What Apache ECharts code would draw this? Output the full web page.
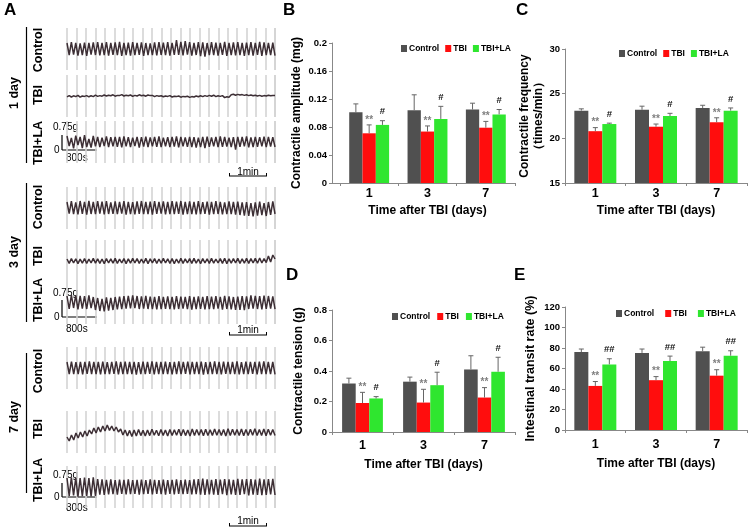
<!DOCTYPE html>
<html><head><meta charset="utf-8">
<script src="https://cdn.jsdelivr.net/npm/echarts@6/dist/echarts.min.js"></script>
<style>html,body{margin:0;padding:0;background:#fff}#c{width:750px;height:528px}</style>
</head><body><div id="c"></div>
<script>
// ---------- DATA ----------
const days = ['1', '3', '7'];
const groupNames = ['Control', 'TBI', 'TBI+LA'];

// B: Contractile amplitude (mg)
const ampControl = [0.101, 0.104, 0.105];
const ampControlErr = [0.012, 0.022, 0.009];
const ampTBI = [0.071, 0.0735, 0.079];
const ampTBIErr = [0.012, 0.008, 0.009];
const ampLA = [0.083, 0.0915, 0.098];
const ampLAErr = [0.006, 0.018, 0.007];
const ampTicks = [0, 0.04, 0.08, 0.12, 0.16, 0.2];

// C: Contractile frequency (times/min)
const freqControl = [23.1, 23.2, 23.4];
const freqControlErr = [0.2, 0.4, 0.3];
const freqTBI = [20.8, 21.3, 21.8];
const freqTBIErr = [0.4, 0.3, 0.5];
const freqLA = [21.6, 22.5, 23.1];
const freqLAErr = [0.1, 0.3, 0.3];
const freqTicks = [15, 20, 25, 30];

// D: Contractile tension (g)
const tenControl = [0.318, 0.33, 0.41];
const tenControlErr = [0.035, 0.03, 0.09];
const tenTBI = [0.19, 0.193, 0.226];
const tenTBIErr = [0.07, 0.087, 0.065];
const tenLA = [0.22, 0.307, 0.395];
const tenLAErr = [0.012, 0.085, 0.095];
const tenTicks = [0, 0.2, 0.4, 0.6, 0.8];

// E: Intestinal transit rate (%)
const itrControl = [76, 75.2, 76.8];
const itrControlErr = [3, 3.8, 4];
const itrTBI = [43, 48.6, 53];
const itrTBIErr = [4.3, 3.5, 5.8];
const itrLA = [64, 67.3, 72.5];
const itrLAErr = [5.5, 4.8, 4.8];
const itrTicks = [0, 20, 40, 60, 80, 100, 120];

// significance marks
const marksTBI = ['**', '**', '**'];
const marksLA = ['#', '#', '#'];
const marksLAE = ['##', '##', '##'];

// A: traces (peaks / troughs, in 0.01 g, read from the recordings)
const trace1dControl = [30,-30,34,-28,30,-33,28,-30,32,-34,30,-28,33,-30,35,-32,30,-30,34,-33,31,-29,33,-31,36,-34,30,-30,32,-33,34,-30,31,-29,33,-35,30,-31,28,-30,33,-32,35,-30,32,-31,34,-33,30,-29,45,-30,36,-32,40,-28,34,-33,31,-30,35,-36,33,-38,30,-31,34,-30,32,-33,30,-29,36,-34,31,-30,33,-32,35,-31,30,-34,32,-30,34,-33,31,-29,36,-35,33,-30,30,-31,32,-33];
const trace1dTBI = [-4,2,-5,1,-3,3,-6,0,-2,2,-4,1,-3,4,-2,2,-1,5,0,4,1,6,-1,3,2,7,0,4,1,5,-2,3,0,6,1,4,-1,5,2,3,-3,2,-1,1,-4,0,-2,2,-5,-1,-3,0,-6,-2,-4,-1,-7,-3,-5,0,-4,1,-3,2,-2,3,-1,4,-3,1,-2,2,-8,-4,-6,6,9,4,8,5,7,3,6,2,5,1,4,0,3,-1,2,0,4,1,3,2];
const trace1dLA = [30,-20,20,-32,32,-15,25,-30,34,-25,15,-28,30,-22,25,-26,22,-20,28,-25,24,-22,26,-24,25,-27,28,-22,24,-25,22,-20,26,-28,24,-23,27,-25,23,-22,25,-24,28,-26,22,-21,24,-25,26,-23,28,-27,25,-22,23,-24,26,-25,24,-28,22,-26,25,-30,27,-24,23,-22,26,-25,28,-24,25,-23,22,-26,24,-38,26,-24,25,-22,28,-27,23,-25,26,-24,24,-22,27,-26,25,-23,24,-25];
const trace3dControl = [30,-28,34,-30,28,-32,35,-29,31,-33,36,-30,30,-31,34,-28,32,-32,35,-30,28,-29,33,-31,30,-28,34,-33,31,-30,29,-32,33,-29,35,-31,30,-30,32,-33,34,-29,31,-28,33,-32,30,-31,34,-30,32,-29,35,-33,30,-30,33,-31,31,-32,34,-30,29,-29,32,-33,30,-31,35,-30,31,-32,28,-30,33,-31,30,-33,32,-35,28,-38,30,-40,25,-42,28,-38,32,-36,24,-40,30,-34,33,-30];
const trace3dTBI = [10,-12,12,-10,11,-13,9,-11,12,-12,10,-10,13,-11,11,-12,10,-13,12,-10,11,-11,13,-12,10,-10,12,-13,11,-11,14,-10,12,-12,10,-11,13,-13,11,-10,12,-12,10,-11,13,-10,11,-12,12,-13,10,-11,14,-12,11,-10,12,-12,13,-11,10,-13,12,-10,11,-12,13,-11,10,-10,12,-12,14,-13,11,-11,12,-10,13,-12,11,-11,14,-12,12,-10,13,-11,15,-10,12,-8,25,-5,30,10];
const trace3dLA = [35,-30,40,-25,38,-32,36,-28,34,-30,38,-26,30,-35,25,-40,20,-42,28,-38,25,-35,30,-32,32,-30,34,-28,36,-27,38,-25,35,-30,33,-28,36,-30,32,-31,30,-32,34,-30,31,-29,33,-31,30,-32,35,-30,32,-28,30,-31,34,-33,31,-30,33,-29,30,-32,35,-31,32,-30,34,-28,31,-33,36,-30,33,-32,30,-35,32,-34,35,-36,33,-30,38,-28,36,-30,34,-32,37,-30,35,-28,33,-31];
const trace7dControl = [30,-30,32,-31,29,-30,31,-32,30,-29,33,-30,31,-31,30,-32,32,-30,29,-31,31,-29,33,-32,30,-30,32,-31,30,-30,31,-33,29,-30,32,-31,30,-29,33,-32,31,-30,30,-31,32,-30,29,-32,31,-30,33,-31,30,-29,32,-32,31,-30,30,-31,32,-33,29,-30,31,-31,33,-30,30,-32,32,-29,31,-31,30,-30,33,-32,29,-30,32,-31,31,-29,30,-32,32,-30,33,-31,30,-30,31,-32];
const trace7dTBI = [-25,-45,-15,-40,-5,-30,0,-25,5,-20,10,-10,20,-5,25,0,30,5,35,8,30,5,25,0,15,-15,10,-20,8,-22,10,-20,12,-18,8,-20,10,-18,14,-16,9,-19,12,-17,10,-20,13,-18,11,-16,14,-19,12,-18,10,-20,15,-17,13,-16,12,-19,14,-18,11,-17,15,-16,13,-18,12,-20,16,-17,14,-16,12,-18,15,-19,13,-17,14,-16,16,-18,12,-17,15,-19,14,-16,13,-18];
const trace7dLA = [45,-45,48,-42,46,-48,44,-46,47,-44,45,-47,48,-45,40,-38,38,-40,36,-37,38,-36,35,-38,37,-35,36,-37,38,-36,34,-35,36,-38,37,-36,35,-34,38,-37,36,-35,34,-36,37,-38,35,-34,36,-37,38,-35,34,-36,37,-34,35,-37,38,-36,40,-38,42,-40,38,-37,36,-38,39,-40,37,-36,40,-41,38,-37,36,-39,41,-40,38,-36,40,-42,39,-38,37,-40,42,-41,38,-39,40,-37,41,-40];

// ---------- LAYOUT / STYLE ----------
const FONT = '"Liberation Sans", Arial, sans-serif';
const COLORS = ['#505050', '#ff0d0d', '#2fe62f'];
const traceRows = [
  [trace1dControl, 49], [trace1dTBI, 96], [trace1dLA, 142],
  [trace3dControl, 208], [trace3dTBI, 261], [trace3dLA, 303],
  [trace7dControl, 368], [trace7dTBI, 432], [trace7dLA, 487]
];

const grids = [], xAxes = [], yAxes = [], series = [];

traceRows.forEach(function (r, idx) {
  const arr = r[0], cy = r[1];
  grids.push({left: 67, width: 208, top: cy - 21, height: 42});
  xAxes.push({type: 'value', gridIndex: idx, min: 0, max: arr.length - 1, interval: (arr.length - 1) / 22,
    axisLine: {show: false}, axisTick: {show: false}, axisLabel: {show: false},
    splitLine: {show: true, lineStyle: {color: '#d4d4d4', width: 1.6}}});
  yAxes.push({type: 'value', gridIndex: idx, min: -1.05, max: 1.05, show: false, splitLine: {show: false}});
  series.push({type: 'line', xAxisIndex: idx, yAxisIndex: idx, showSymbol: false, silent: true,
    data: arr.map(function (v, i) { return [i, v / 100]; }),
    lineStyle: {color: '#3d2f35', width: 1.5}});
});

function errRender(k, marks, markStyle, barW) {
  return function (params, api) {
    const i = api.value(0), v = api.value(1), e = api.value(2);
    const p0 = api.coord([i, v]), p1 = api.coord([i, v + e]);
    const x = p0[0] + (k - 1) * barW;
    const ch = [
      {type: 'line', shape: {x1: x, y1: p0[1], x2: x, y2: p1[1]}, style: {stroke: '#666', lineWidth: 1}},
      {type: 'line', shape: {x1: x - 2.5, y1: p1[1], x2: x + 2.5, y2: p1[1]}, style: {stroke: '#666', lineWidth: 1}}
    ];
    const m = marks ? marks[params.dataIndex] : null;
    if (m) ch.push({type: 'text', x: x, y: p1[1] - markStyle.dy,
      style: {text: m, align: 'center', verticalAlign: 'middle', font: markStyle.font, fill: markStyle.color}});
    return {type: 'group', children: ch};
  };
}

const starStyle = {font: 'bold 10px ' + FONT, color: '#808080', dy: 5};
const hashStyle = {font: 'bold 9.5px ' + FONT, color: '#111', dy: 9};

function addPanel(p) {
  let gi = grids.length;
  if (p.frame) {
    grids.push({left: p.frame.left, width: p.frame.width, top: p.top, height: p.height});
    xAxes.push({type: 'category', gridIndex: gi, data: days, axisTick: {show: false}, axisLabel: {show: false},
      axisLine: {lineStyle: {color: '#888', width: 1}}});
    yAxes.push(p.yAxis(gi, true));
    gi = grids.length;
  }
  grids.push({left: p.left, width: p.width, top: p.top, height: p.height});
  xAxes.push({type: 'category', gridIndex: gi, data: days,
    axisLine: {show: !p.frame, lineStyle: {color: '#888', width: 1}},
    axisTick: {show: true, length: 3, lineStyle: {color: '#888'}},
    axisLabel: {color: '#000', fontFamily: FONT, fontWeight: 'bold', fontSize: 12.5, margin: p.labelMargin},
    name: 'Time after TBI (days)', nameLocation: 'middle', nameGap: p.nameGap,
    nameTextStyle: {color: '#000', fontFamily: FONT, fontWeight: 'bold', fontSize: 12}});
  yAxes.push(p.yAxis(gi, !p.frame));
  p.values.forEach(function (vals, k) {
    series.push({type: 'bar', name: groupNames[k], xAxisIndex: gi, yAxisIndex: gi, data: vals,
      barWidth: p.barW, barGap: '0%', itemStyle: {color: COLORS[k]}, silent: true, z: 2});
  });
  p.values.forEach(function (vals, k) {
    series.push({type: 'custom', name: 'err' + gi + '_' + k, xAxisIndex: gi, yAxisIndex: gi, z: 5, silent: true,
      data: vals.map(function (v, i) { return [i, v, p.errs[k][i]]; }),
      renderItem: errRender(k, p.marks[k], k === 1 ? starStyle : hashStyle, p.barW)});
  });
}

function yAxisMaker(ticks, name, nameGap, lineHeight, fontSize) {
  return function (gi, visible) {
    const interval = ticks[1] - ticks[0];
    const ax = {type: 'value', gridIndex: gi, min: ticks[0], max: ticks[ticks.length - 1], interval: interval,
      splitLine: {show: false}};
    if (!visible) { ax.show = false; return ax; }
    Object.assign(ax, {
      axisLine: {show: true, lineStyle: {color: '#888', width: 1}},
      axisTick: {show: true, length: 3, lineStyle: {color: '#888'}},
      axisLabel: {color: '#000', fontFamily: FONT, fontWeight: 'bold', fontSize: 9.5, margin: 5},
      name: name, nameLocation: 'middle', nameGap: nameGap,
      nameTextStyle: {color: '#000', fontFamily: FONT, fontWeight: 'bold', fontSize: fontSize || 12, lineHeight: lineHeight || 14}
    });
    return ax;
  };
}

addPanel({frame: {left: 332, width: 183}, left: 340, width: 175, top: 43, height: 140, barW: 13.3,
  labelMargin: 4, nameGap: 22,
  yAxis: yAxisMaker(ampTicks, 'Contractile amplitude (mg)', 28),
  values: [ampControl, ampTBI, ampLA], errs: [ampControlErr, ampTBIErr, ampLAErr],
  marks: [null, marksTBI, marksLA]});
addPanel({left: 565, width: 182, top: 49, height: 134, barW: 14,
  labelMargin: 4, nameGap: 22,
  yAxis: yAxisMaker(freqTicks, 'Contractile frequency\n（times/min）', 19, 14),
  values: [freqControl, freqTBI, freqLA], errs: [freqControlErr, freqTBIErr, freqLAErr],
  marks: [null, marksTBI, marksLA]});
addPanel({left: 332, width: 183, top: 310, height: 122, barW: 13.6,
  labelMargin: 7, nameGap: 27,
  yAxis: yAxisMaker(tenTicks, 'Contractile tension (g)', 26),
  values: [tenControl, tenTBI, tenLA], errs: [tenControlErr, tenTBIErr, tenLAErr],
  marks: [null, marksTBI, marksLA]});
addPanel({left: 565, width: 182, top: 307, height: 123, barW: 14,
  labelMargin: 8, nameGap: 28,
  yAxis: yAxisMaker(itrTicks, 'Intestinal transit rate (%)', 27, 14, 12.5),
  values: [itrControl, itrTBI, itrLA], errs: [itrControlErr, itrTBIErr, itrLAErr],
  marks: [null, marksTBI, marksLAE]});

function legendAt(left, top, gap) {
  return {left: left, top: top, data: groupNames, icon: 'rect', itemWidth: 6, itemHeight: 7, itemGap: gap,
    selectedMode: false, padding: 0,
    textStyle: {color: '#000', fontFamily: FONT, fontWeight: 'bold', fontSize: 8.5, padding: [0, 0, 0, -3]}};
}

// ---------- GRAPHIC (panel A annotations & panel letters) ----------
const g = [];
function txt(x, y, s, font, opts) {
  g.push(Object.assign({type: 'text', x: x, y: y, silent: true,
    style: Object.assign({text: s, font: font, fill: '#000', align: 'left', verticalAlign: 'middle'}, opts || {})}));
}
function rtxt(x, y, s, font) {
  g.push({type: 'text', x: x, y: y, rotation: Math.PI / 2, silent: true,
    style: {text: s, font: font, fill: '#000', align: 'center', verticalAlign: 'middle'}});
}
function ln(x1, y1, x2, y2, w, c) {
  g.push({type: 'line', silent: true, shape: {x1: x1, y1: y1, x2: x2, y2: y2}, style: {stroke: c || '#000', lineWidth: w || 1}});
}
const bigBold = 'bold 17px ' + FONT;
txt(4, 10, 'A', bigBold);
txt(283, 10, 'B', bigBold);
txt(516, 10, 'C', bigBold);
txt(286, 275, 'D', bigBold);
txt(514, 275, 'E', bigBold);

const lab = 'bold 12.5px ' + FONT;
const small = '10px ' + FONT;
const dayGroups = [
  {name: '1 day', cy: 93, ly: [27, 163], rows: [50, 95, 143], g: 127, v: [135, 150], s: 158, m: 172, ml: 176},
  {name: '3 day', cy: 252, ly: [183, 322], rows: [207, 256, 300], g: 293, v: [300, 317], s: 329, m: 330, ml: 335},
  {name: '7 day', cy: 417, ly: [353, 493], rows: [371, 429, 480], g: 475, v: [483, 497], s: 508, m: 521, ml: 526}
];
dayGroups.forEach(function (d) {
  rtxt(15, d.cy, d.name, lab);
  ln(26.5, d.ly[0], 26.5, d.ly[1], 1.2);
  rtxt(39, d.rows[0], 'Control', lab);
  rtxt(39, d.rows[1], 'TBI', lab);
  rtxt(39, d.rows[2], 'TBI+LA', lab);
  txt(53, d.g, '0.75g', small);
  txt(54, d.v[1], '0', small);
  ln(62, d.v[0], 62, d.v[1], 1.2);
  ln(62, d.v[1], 97, d.v[1], 1.2);
  txt(66, d.s, '800s', small);
  txt(248, d.m, '1min', small, {align: 'center'});
  ln(229, d.ml, 267, d.ml, 1.2);
  ln(229.5, d.ml - 3, 229.5, d.ml, 1);
  ln(266.5, d.ml - 3, 266.5, d.ml, 1);
});

const option = {
  animation: false,
  backgroundColor: '#fff',
  grid: grids, xAxis: xAxes, yAxis: yAxes, series: series,
  legend: [legendAt(401, 44, 6), legendAt(619, 49, 6), legendAt(392, 312, 7), legendAt(616, 309, 11)],
  graphic: g
};
const chart = echarts.init(document.getElementById('c'), null, {renderer: 'canvas'});
chart.setOption(option);
</script></body></html>
